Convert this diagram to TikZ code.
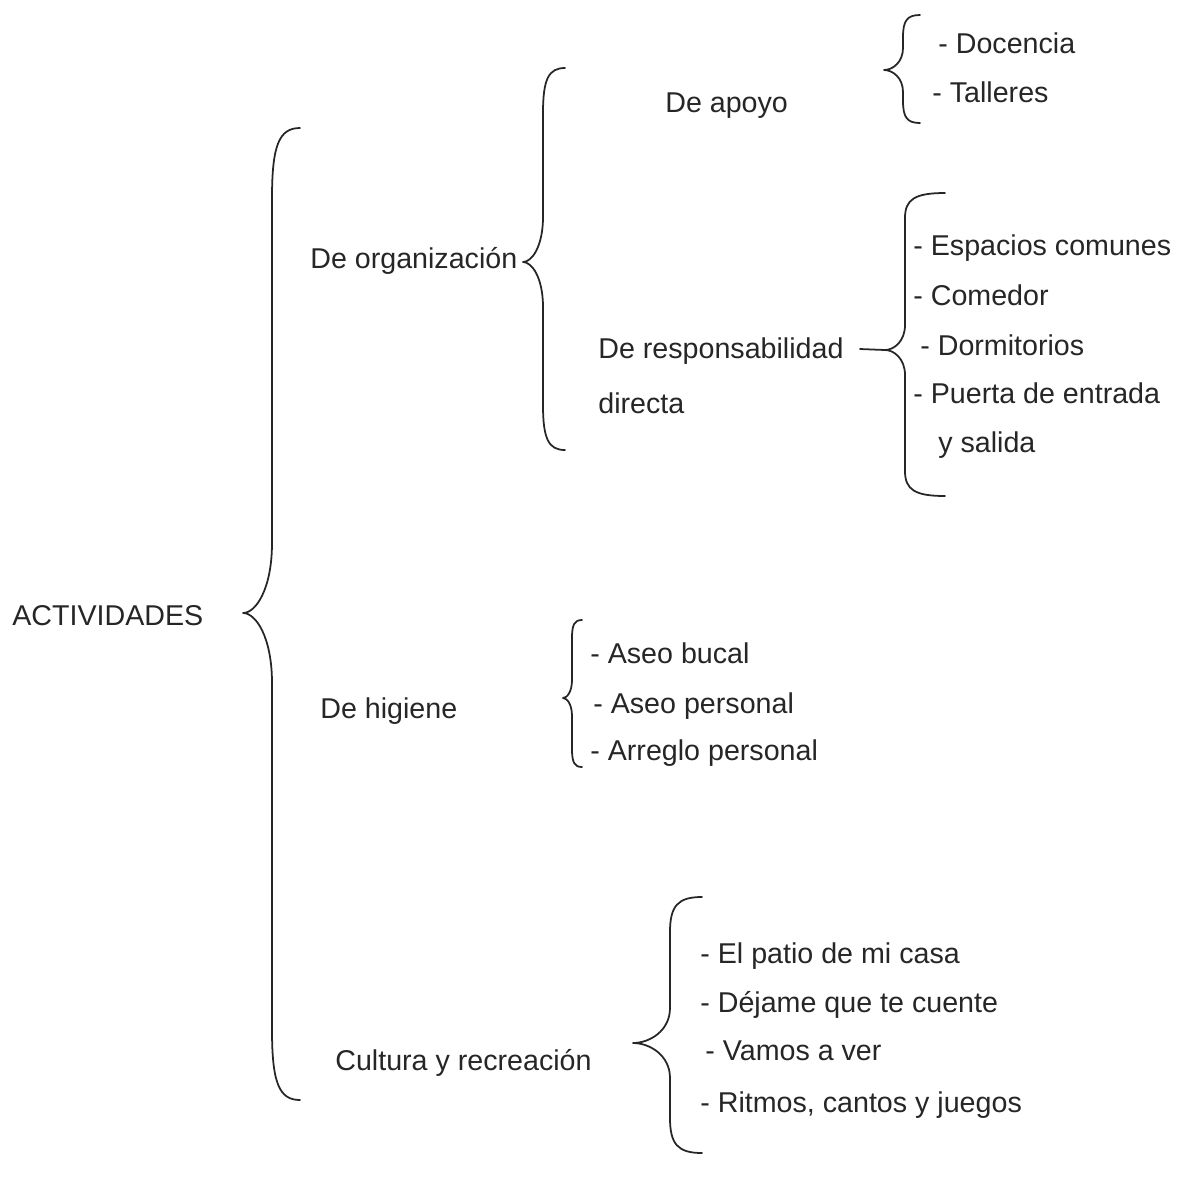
\documentclass[tikz,border=0pt]{standalone}
\usepackage{fontspec}
\setmainfont{Liberation Sans}
\definecolor{ink}{HTML}{262626}
\newcommand{\mybrace}[7]{%
  \draw[bracestyle] (#1,#2) .. controls ({#3+0.25*(#1-#3)},#2) and (#3,{#2+0.25*#7}) .. (#3,{#2+#7})
    -- (#3,{#5-#7}) .. controls (#3,{#5-0.35*#7}) and ({#4+0.45*(#3-#4)},#5) .. (#4,#5)
    .. controls ({#4+0.45*(#3-#4)},#5) and (#3,{#5+0.35*#7}) .. (#3,{#5+#7})
    -- (#3,{#6-#7}) .. controls (#3,{#6-0.25*#7}) and ({#3+0.25*(#1-#3)},#6) .. (#1,#6);}
\begin{document}
\begin{tikzpicture}[x=0.02cm,y=-0.02cm,
  lbl/.style={anchor=base west,inner sep=0pt,text=ink,font=\fontsize{16.3}{19}\selectfont},
  bracestyle/.style={draw=ink,line width=1pt,line cap=round,line join=round}]
\useasboundingbox (0,0) rectangle (1190,1181);

% main
\node[lbl] (act) at (12,625) {ACTIVIDADES};
\mybrace{300}{128}{272}{243}{613}{1100}{70}

% level 1
\node[lbl] (org) at (310,268) {De organización};
\node[lbl] (hig) at (320,718) {De higiene};
\node[lbl] (cul) at (335,1070) {Cultura y recreación};

% organizacion brace
\mybrace{565}{68}{543}{523}{262}{450}{45}

\node[lbl] (apo) at (665,112) {De apoyo};
\node[lbl] (res) at (598,358) {De responsabilidad};
\node[lbl] (dir) at (598,413) {directa};

% apoyo brace
\mybrace{920}{15}{903}{884}{70}{123}{22}
\node[lbl] (doc) at (938,53) {- Docencia};
\node[lbl] (tal) at (932,102) {- Talleres};

% responsabilidad brace
\mybrace{945}{193}{905}{885}{350}{496}{25}
\draw[bracestyle] (860,349) -- (885,350);
\node[lbl] (esp) at (913,255) {- Espacios comunes};
\node[lbl] (com) at (913,305) {- Comedor};
\node[lbl] (dor) at (920,355) {- Dormitorios};
\node[lbl] (pue) at (913,403) {- Puerta de entrada};
\node[lbl] (sal) at (938,452) {y salida};

% higiene brace
\mybrace{582}{620}{572}{563}{698}{767}{18}
\node[lbl] (ase) at (590,663) {- Aseo bucal};
\node[lbl] (asp) at (593,713) {- Aseo personal};
\node[lbl] (arr) at (590,760) {- Arreglo personal};

% cultura brace
\mybrace{702}{897}{670}{633}{1043}{1153}{35}
\node[lbl] (pat) at (700,963) {- El patio de mi casa};
\node[lbl] (dej) at (700,1012) {- Déjame que te cuente};
\node[lbl] (vam) at (705,1060) {- Vamos a ver};
\node[lbl] (rit) at (700,1112) {- Ritmos, cantos y juegos};
\end{tikzpicture}
\end{document}
